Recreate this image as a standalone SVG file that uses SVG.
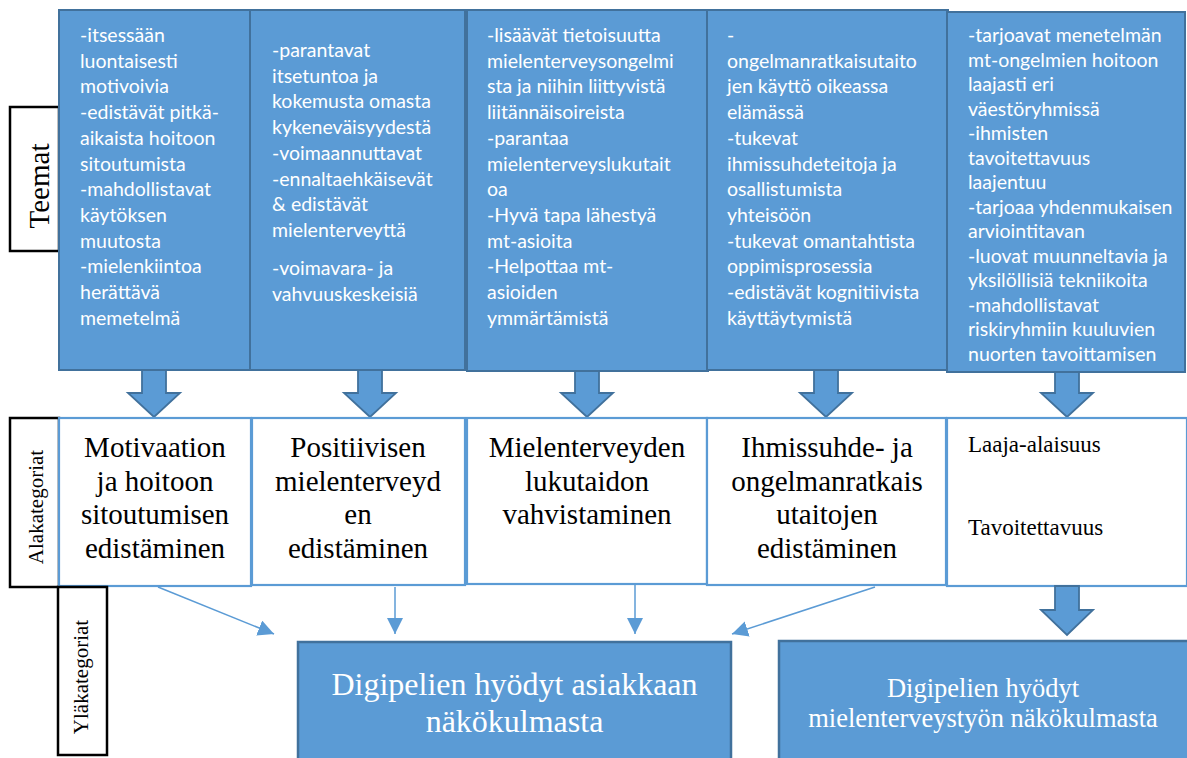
<svg xmlns="http://www.w3.org/2000/svg" width="1187" height="758" viewBox="0 0 1187 758">
<style>
.top{fill:#5B9BD5;stroke:#41719C;stroke-width:2}
.mid{fill:#FFFFFF;stroke:#5B9BD5;stroke-width:2.2}
.bot{fill:#5B9BD5;stroke:#41719C;stroke-width:2.5}
.side{fill:#FFFFFF;stroke:#000000;stroke-width:2.5}
.barrow{fill:#5B9BD5;stroke:#41719C;stroke-width:1.8}
.tt{font-family:Lato,"Open Sans",sans-serif;font-size:19.5px;fill:#FFFFFF}
.mt{font-family:"Liberation Serif",serif;font-size:29px;fill:#000000;text-anchor:middle}
.mt5{font-family:"Liberation Serif",serif;font-size:23px;fill:#000000}
.bt{font-family:"Liberation Serif",serif;fill:#FFFFFF;text-anchor:middle}
.st{font-family:"Liberation Serif",serif;fill:#000000;text-anchor:middle}
.conn{stroke:#5B9BD5;stroke-width:1.5;fill:none}
</style>
<defs>
<marker id="ah" viewBox="0 0 16 16" refX="16" refY="8" markerWidth="16" markerHeight="16" markerUnits="userSpaceOnUse" orient="auto">
<path d="M0,0 L16,8 L0,16 z" fill="#5B9BD5"/>
</marker>
</defs>

<g id="label-teemat">
<rect class="side" x="10" y="107" width="49" height="144"/>
<text class="st" font-size="29" transform="translate(49,186) rotate(-90)">Teemat</text>
</g>

<g id="theme1">
<rect class="top" x="59" y="10" width="191" height="360"/>
<text class="tt" x="80">
<tspan x="80" y="42">-itsessään</tspan>
<tspan x="80" y="67.7">luontaisesti</tspan>
<tspan x="80" y="93.4">motivoivia</tspan>
<tspan x="80" y="119.1">-edistävät pitkä-</tspan>
<tspan x="80" y="144.8">aikaista hoitoon</tspan>
<tspan x="80" y="170.5">sitoutumista</tspan>
<tspan x="80" y="196.2">-mahdollistavat</tspan>
<tspan x="80" y="221.9">käytöksen</tspan>
<tspan x="80" y="247.6">muutosta</tspan>
<tspan x="80" y="273.3">-mielenkiintoa</tspan>
<tspan x="80" y="299">herättävä</tspan>
<tspan x="80" y="324.7">memetelmä</tspan>
</text>
</g>

<g id="theme2">
<rect class="top" x="250" y="10" width="215" height="360"/>
<text class="tt">
<tspan x="272" y="57">-parantavat</tspan>
<tspan x="272" y="82.7">itsetuntoa ja</tspan>
<tspan x="272" y="108.4">kokemusta omasta</tspan>
<tspan x="272" y="134.1">kykeneväisyydestä</tspan>
<tspan x="272" y="159.8">-voimaannuttavat</tspan>
<tspan x="272" y="185.5">-ennaltaehkäisevät</tspan>
<tspan x="272" y="211.2">&amp; edistävät</tspan>
<tspan x="272" y="236.9">mielenterveyttä</tspan>
<tspan x="272" y="275">-voimavara- ja</tspan>
<tspan x="272" y="301">vahvuuskeskeisiä</tspan>
</text>
</g>

<g id="theme3">
<rect class="top" x="467" y="10" width="241" height="361"/>
<text class="tt">
<tspan x="487" y="42">-lisäävät tietoisuutta</tspan>
<tspan x="487" y="67.7">mielenterveysongelmi</tspan>
<tspan x="487" y="93.4">sta ja niihin liittyvistä</tspan>
<tspan x="487" y="119.1">liitännäisoireista</tspan>
<tspan x="487" y="144.8">-parantaa</tspan>
<tspan x="487" y="170.5">mielenterveyslukutait</tspan>
<tspan x="487" y="196.2">oa</tspan>
<tspan x="487" y="221.9">-Hyvä tapa lähestyä</tspan>
<tspan x="487" y="247.6">mt-asioita</tspan>
<tspan x="487" y="273.3">-Helpottaa mt-</tspan>
<tspan x="487" y="299">asioiden</tspan>
<tspan x="487" y="324.7">ymmärtämistä</tspan>
</text>
</g>

<g id="theme4">
<rect class="top" x="707" y="10" width="241" height="360"/>
<text class="tt">
<tspan x="727" y="42">-</tspan>
<tspan x="727" y="67.7">ongelmanratkaisutaito</tspan>
<tspan x="727" y="93.4">jen käyttö oikeassa</tspan>
<tspan x="727" y="119.1">elämässä</tspan>
<tspan x="727" y="144.8">-tukevat</tspan>
<tspan x="727" y="170.5">ihmissuhdeteitoja ja</tspan>
<tspan x="727" y="196.2">osallistumista</tspan>
<tspan x="727" y="221.9">yhteisöön</tspan>
<tspan x="727" y="247.6">-tukevat omantahtista</tspan>
<tspan x="727" y="273.3">oppimisprosessia</tspan>
<tspan x="727" y="299">-edistävät kognitiivista</tspan>
<tspan x="727" y="324.7">käyttäytymistä</tspan>
</text>
</g>

<g id="theme5">
<rect class="top" x="947" y="12" width="238" height="360"/>
<text class="tt">
<tspan x="968" y="42">-tarjoavat menetelmän</tspan>
<tspan x="968" y="66.5">mt-ongelmien hoitoon</tspan>
<tspan x="968" y="91">laajasti eri</tspan>
<tspan x="968" y="115.5">väestöryhmissä</tspan>
<tspan x="968" y="140">-ihmisten</tspan>
<tspan x="968" y="164.5">tavoitettavuus</tspan>
<tspan x="968" y="189">laajentuu</tspan>
<tspan x="968" y="213.5">-tarjoaa yhdenmukaisen</tspan>
<tspan x="968" y="238">arviointitavan</tspan>
<tspan x="968" y="262.5">-luovat muunneltavia ja</tspan>
<tspan x="968" y="287">yksilöllisiä tekniikoita</tspan>
<tspan x="968" y="311.5">-mahdollistavat</tspan>
<tspan x="968" y="336">riskiryhmiin kuuluvien</tspan>
<tspan x="968" y="360.5">nuorten tavoittamisen</tspan>
</text>
</g>

<g id="block-arrows">
<polygon class="barrow" points="142,370 166,370 166,393 180,393 154,417 128,393 142,393"/>
<polygon class="barrow" points="358,370 382,370 382,393 396,393 370,417 344,393 358,393"/>
<polygon class="barrow" points="575,371 599,371 599,393 613,393 587,417 561,393 575,393"/>
<polygon class="barrow" points="814,370 838,370 838,393 852,393 826,417 800,393 814,393"/>
<polygon class="barrow" points="1055,372 1079,372 1079,393 1093,393 1067,417 1041,393 1055,393"/>
</g>

<g id="label-alakategoriat">
<rect class="side" x="10" y="418" width="49" height="169"/>
<text class="st" font-size="21" transform="translate(43,507) rotate(-90)">Alakategoriat</text>
</g>

<g id="sub1">
<rect class="mid" x="59" y="418" width="192" height="168"/>
<text class="mt"><tspan x="155" y="457">Motivaation</tspan><tspan x="155" y="490.5">ja hoitoon</tspan><tspan x="155" y="524">sitoutumisen</tspan><tspan x="155" y="557.5">edistäminen</tspan></text>
</g>
<g id="sub2">
<rect class="mid" x="252" y="418" width="213" height="167"/>
<text class="mt"><tspan x="358" y="457">Positiivisen</tspan><tspan x="358" y="490.5">mielenterveyd</tspan><tspan x="358" y="524">en</tspan><tspan x="358" y="557.5">edistäminen</tspan></text>
</g>
<g id="sub3">
<rect class="mid" x="467" y="418" width="240" height="166"/>
<text class="mt"><tspan x="587" y="457">Mielenterveyden</tspan><tspan x="587" y="490.5">lukutaidon</tspan><tspan x="587" y="524">vahvistaminen</tspan></text>
</g>
<g id="sub4">
<rect class="mid" x="707" y="418" width="239" height="167"/>
<text class="mt"><tspan x="827" y="457">Ihmissuhde- ja</tspan><tspan x="827" y="490.5">ongelmanratkais</tspan><tspan x="827" y="524">utaitojen</tspan><tspan x="827" y="557.5">edistäminen</tspan></text>
</g>
<g id="sub5">
<rect class="mid" x="947" y="418" width="240" height="168"/>
<text class="mt5"><tspan x="968" y="452">Laaja-alaisuus</tspan><tspan x="968" y="535">Tavoitettavuus</tspan></text>
</g>

<g id="label-ylakategoriat">
<rect class="side" x="58" y="587" width="49" height="168"/>
<text class="st" font-size="21" transform="translate(88,677) rotate(-90)">Yläkategoriat</text>
</g>

<g id="connectors">
<line class="conn" x1="158" y1="587" x2="274" y2="634" marker-end="url(#ah)"/>
<line class="conn" x1="395" y1="587" x2="395" y2="634" marker-end="url(#ah)"/>
<line class="conn" x1="635" y1="585" x2="635" y2="634" marker-end="url(#ah)"/>
<line class="conn" x1="875" y1="587" x2="732" y2="634" marker-end="url(#ah)"/>
<polygon class="barrow" points="1055,586 1079,586 1079,610 1093,610 1067,635 1041,610 1055,610"/>
</g>

<g id="main1">
<rect class="bot" x="298" y="642" width="433" height="130"/>
<text class="bt" font-size="32"><tspan x="514.5" y="695">Digipelien hyödyt asiakkaan</tspan><tspan x="514.5" y="732">näkökulmasta</tspan></text>
</g>
<g id="main2">
<rect class="bot" x="779" y="641" width="420" height="130"/>
<text class="bt" font-size="26.5"><tspan x="983" y="697">Digipelien hyödyt</tspan><tspan x="983" y="727">mielenterveystyön näkökulmasta</tspan></text>
</g>
</svg>
